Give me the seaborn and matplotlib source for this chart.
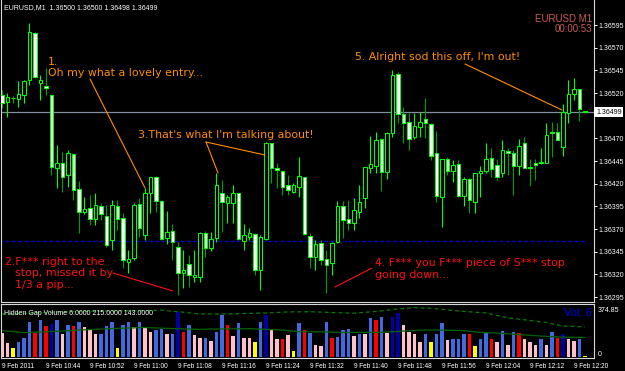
import numpy as np
import pandas as pd
import matplotlib
matplotlib.use("Agg")
import matplotlib.pyplot as plt
from matplotlib.lines import Line2D
import seaborn as sns

# ---------------- data ----------------
header_text = "EURUSD,M1  1.36500 1.36500 1.36498 1.36499"
indicator_text = "Hidden Gap Volume 6.0000 215.0000 143.0000"
time_labels = ["9 Feb 2011", "9 Feb 10:44", "9 Feb 10:52", "9 Feb 11:00", "9 Feb 11:08",
               "9 Feb 11:16", "9 Feb 11:24", "9 Feb 11:32", "9 Feb 11:40", "9 Feb 11:48",
               "9 Feb 11:56", "9 Feb 12:04", "9 Feb 12:12", "9 Feb 12:20"]
time_label_bars = [0, 8, 16, 24, 32, 40, 48, 56, 64, 72, 80, 88, 96, 104]

open_ = [1.36518, 1.36510, 1.36515, 1.36513, 1.36518, 1.36534, 1.36586, 1.36531, 1.36528, 1.36518,
         1.36437, 1.36443, 1.36430, 1.36453, 1.36414, 1.36389, 1.36393, 1.36381, 1.36395, 1.36384,
         1.36358, 1.36395, 1.36382, 1.36334, 1.36338, 1.36398, 1.36363, 1.36410, 1.36427, 1.36401,
         1.36360, 1.36368, 1.36350, 1.36322, 1.36331, 1.36317, 1.36317, 1.36366, 1.36349, 1.36360,
         1.36410, 1.36399, 1.36399, 1.36410, 1.36357, 1.36361, 1.36365, 1.36325, 1.36359, 1.36465,
         1.36437, 1.36434, 1.36419, 1.36411, 1.36416, 1.36427, 1.36362, 1.36339, 1.36355, 1.36337,
         1.36333, 1.36356, 1.36395, 1.36381, 1.36377, 1.36389, 1.36404, 1.36437, 1.36440, 1.36469,
         1.36433, 1.36476, 1.36541, 1.36497, 1.36488, 1.36471, 1.36482, 1.36491, 1.36486, 1.36454,
         1.36405, 1.36447, 1.36434, 1.36442, 1.36406, 1.36425, 1.36400, 1.36432, 1.36434, 1.36448,
         1.36441, 1.36432, 1.36456, 1.36454, 1.36440, 1.36465, 1.36438, 1.36443, 1.36443, 1.36443,
         1.36477, 1.36477, 1.36460, 1.36498, 1.36519, 1.36524, 1.36500]
high = [1.36523, 1.36520, 1.36517, 1.36533, 1.36534, 1.36597, 1.36587, 1.36540, 1.36548, 1.36518,
        1.36463, 1.36455, 1.36457, 1.36454, 1.36423, 1.36405, 1.36408, 1.36410, 1.36399, 1.36397,
        1.36402, 1.36402, 1.36388, 1.36347, 1.36399, 1.36404, 1.36415, 1.36427, 1.36429, 1.36402,
        1.36390, 1.36376, 1.36356, 1.36347, 1.36341, 1.36347, 1.36367, 1.36368, 1.36367, 1.36432,
        1.36424, 1.36408, 1.36419, 1.36410, 1.36376, 1.36371, 1.36366, 1.36363, 1.36466, 1.36465,
        1.36443, 1.36435, 1.36430, 1.36421, 1.36449, 1.36427, 1.36366, 1.36358, 1.36358, 1.36347,
        1.36356, 1.36401, 1.36401, 1.36402, 1.36404, 1.36418, 1.36438, 1.36473, 1.36477, 1.36470,
        1.36477, 1.36545, 1.36543, 1.36505, 1.36498, 1.36498, 1.36499, 1.36515, 1.36487, 1.36478,
        1.36447, 1.36449, 1.36446, 1.36446, 1.36427, 1.36426, 1.36432, 1.36440, 1.36465, 1.36459,
        1.36447, 1.36468, 1.36459, 1.36457, 1.36469, 1.36471, 1.36447, 1.36447, 1.36459, 1.36487,
        1.36488, 1.36487, 1.36508, 1.36534, 1.36537, 1.36524, 1.36500]
low = [1.36504, 1.36494, 1.36509, 1.36505, 1.36509, 1.36529, 1.36537, 1.36512, 1.36518, 1.36430,
       1.36415, 1.36411, 1.36416, 1.36402, 1.36366, 1.36386, 1.36374, 1.36374, 1.36380, 1.36350,
       1.36347, 1.36369, 1.36327, 1.36322, 1.36336, 1.36361, 1.36358, 1.36388, 1.36389, 1.36358,
       1.36354, 1.36336, 1.36297, 1.36305, 1.36306, 1.36311, 1.36311, 1.36339, 1.36346, 1.36356,
       1.36367, 1.36377, 1.36377, 1.36358, 1.36347, 1.36358, 1.36319, 1.36303, 1.36358, 1.36421,
       1.36415, 1.36408, 1.36408, 1.36410, 1.36405, 1.36363, 1.36327, 1.36325, 1.36330, 1.36299,
       1.36319, 1.36355, 1.36360, 1.36369, 1.36369, 1.36382, 1.36393, 1.36432, 1.36432, 1.36412,
       1.36425, 1.36471, 1.36487, 1.36465, 1.36457, 1.36469, 1.36471, 1.36470, 1.36446, 1.36400,
       1.36372, 1.36430, 1.36422, 1.36405, 1.36395, 1.36388, 1.36388, 1.36405, 1.36432, 1.36427,
       1.36424, 1.36427, 1.36430, 1.36408, 1.36430, 1.36437, 1.36417, 1.36424, 1.36442, 1.36443,
       1.36449, 1.36468, 1.36450, 1.36487, 1.36512, 1.36489, 1.36498]
close = [1.36509, 1.36516, 1.36514, 1.36519, 1.36533, 1.36587, 1.36538, 1.36534, 1.36526, 1.36438,
         1.36443, 1.36427, 1.36454, 1.36413, 1.36389, 1.36392, 1.36381, 1.36397, 1.36386, 1.36352,
         1.36397, 1.36381, 1.36336, 1.36337, 1.36397, 1.36371, 1.36410, 1.36427, 1.36401, 1.36359,
         1.36367, 1.36356, 1.36322, 1.36325, 1.36319, 1.36319, 1.36366, 1.36349, 1.36359, 1.36419,
         1.36400, 1.36405, 1.36410, 1.36359, 1.36363, 1.36366, 1.36325, 1.36361, 1.36465, 1.36437,
         1.36435, 1.36416, 1.36413, 1.36418, 1.36429, 1.36365, 1.36339, 1.36354, 1.36336, 1.36330,
         1.36355, 1.36395, 1.36380, 1.36377, 1.36391, 1.36400, 1.36438, 1.36442, 1.36468, 1.36433,
         1.36476, 1.36540, 1.36497, 1.36487, 1.36469, 1.36484, 1.36488, 1.36487, 1.36450, 1.36406,
         1.36447, 1.36434, 1.36441, 1.36406, 1.36425, 1.36402, 1.36432, 1.36434, 1.36447, 1.36436,
         1.36427, 1.36457, 1.36454, 1.36440, 1.36462, 1.36437, 1.36437, 1.36441, 1.36444, 1.36474,
         1.36476, 1.36468, 1.36499, 1.36519, 1.36524, 1.36502, 1.36499]

volume = [169, 98, 59, 105, 129, 246, 164, 258, 218, 230,
          258, 159, 223, 218, 241, 206, 187, 159, 159, 216,
          246, 59, 223, 246, 206, 246, 199, 176, 187, 192,
          159, 159, 316, 171, 223, 152, 134, 129, 112, 176,
          293, 223, 145, 234, 129, 129, 105, 246, 293, 187,
          124, 124, 152, 40, 234, 187, 169, 82, 75, 246,
          134, 141, 187, 194, 145, 157, 159, 269, 258, 276,
          164, 276, 309, 223, 176, 159, 105, 157, 105, 157,
          234, 117, 122, 122, 157, 157, 75, 124, 176, 124,
          101, 183, 82, 171, 164, 124, 105, 82, 124, 82,
          171, 134, 157, 122, 112, 124, 6]
volume_class = ("PPYBBBRBRN" "BPBRBPPPBB" "BYBBPBPPBB" "PBNRBPPBPB" "BRPBPPYBNP"
                "PRPYBRBPPB" "RBBBPBPBRB" "PNNPPPPBYB" "BPBBBRYBBR" "PBPBRPPPBP" "BRNPPBY")
class_colors = {"B": "#4169E1", "P": "#FFC0CB", "R": "#FF0000", "N": "#0000A0", "Y": "#FFFF00"}

ma_bar = [0, 4, 9, 14, 21, 26, 30, 36, 40, 45, 51, 54, 58, 62, 65, 69, 73, 76, 80, 84, 87, 91, 94, 98, 102, 106]
ma_value = [183, 169, 176, 187, 199, 205, 199, 192, 195, 197, 187, 175, 175, 170, 171, 171, 180, 187, 187, 183,
            171, 164, 155, 145, 137, 135]
band_bar = [0, 5, 10, 15, 20, 25, 29, 32, 36, 40, 44, 48, 52, 56, 60, 64, 68, 72, 75, 78, 81, 84, 88, 92, 96, 99, 102, 106]
band_value = [300, 305, 314, 318, 321, 323, 326, 316, 300, 300, 303, 307, 314, 316, 310, 305, 318, 335, 345, 340,
              328, 318, 307, 272, 255, 240, 215, 210]

price_ticks = [1.36595, 1.36570, 1.36545, 1.36520, 1.36495, 1.36470, 1.36445, 1.36420,
               1.36395, 1.36370, 1.36345, 1.36320, 1.36295]
current_price = 1.36499
stop_level = 1.36357
vol_max_label = "374.85"

# ---------------- layout helpers ----------------
W, H, DPI = 625, 371, 100
def fx(px):
    return px / W
def fy(py):
    return 1 - py / H

sns.set_style("dark")
plt.rcParams["font.family"] = ["Liberation Sans", "DejaVu Sans"]
plt.rcParams["axes.facecolor"] = "black"
plt.rcParams["figure.facecolor"] = "black"

fig = plt.figure(figsize=(W / DPI, H / DPI), dpi=DPI, facecolor="black")
ax = fig.add_axes([fx(1), fy(302), fx(594) - fx(1), fy(0) - fy(302)])
axv = fig.add_axes([fx(1), fy(358), fx(594) - fx(1), fy(304) - fy(358)])
for a in (ax, axv):
    a.set_facecolor("black")
    a.grid(False)
    for s in a.spines.values():
        s.set_color("#D8D8D8")
        s.set_linewidth(0.8)
ax.spines["top"].set_visible(False)

# ---------------- candles ----------------
o = np.array(open_); h = np.array(high); l = np.array(low); c = np.array(close)
idx = np.arange(len(o))
bull = c >= o
ax.axhline(current_price, color="#8090A0", lw=0.9, zorder=1)
ax.hlines(stop_level, -1, 106, colors="#0000E0", lw=0.9, linestyles=(0, (3, 2)), zorder=1)
ax.vlines(idx[bull], l[bull], h[bull], colors="#00FF00", lw=0.8, zorder=2)
ax.vlines(idx[~bull], l[~bull], h[~bull], colors="#00A000", lw=0.8, zorder=2)
ax.bar(idx, np.abs(c - o), bottom=np.minimum(o, c), width=0.6,
       color=np.where(bull, "black", "white"), edgecolor="#00FF00", linewidth=0.75, zorder=3)

ax.set_xlim(-1 / 5.5, 592 / 5.5)
ax.set_ylim(1.36289486, 1.36622574)
ax.set_xticks([])
ax.yaxis.tick_right()
ax.set_yticks(price_ticks)
ax.set_yticklabels(["" if abs(p - current_price) < 0.0001 else f"{p:.5f}" for p in price_ticks])
ax.tick_params(axis="y", colors="white", length=2.3, width=0.7, labelsize=5, pad=1)
ax.text(1.0035, current_price, f"{current_price:.5f}", transform=ax.get_yaxis_transform(),
        ha="left", va="center", fontsize=5, color="black", zorder=10, clip_on=False,
        bbox=dict(boxstyle="square,pad=0.25", fc="white", ec="none"))

# ---------------- volume panel ----------------
df = pd.DataFrame({"bar": np.arange(len(volume)), "volume": volume, "cls": list(volume_class)})
sns.barplot(data=df, x="bar", y="volume", hue="cls", palette=class_colors, dodge=False,
            native_scale=True, width=0.58, saturation=1, errorbar=None, legend=False,
            linewidth=0, ax=axv)
sns.lineplot(x=ma_bar, y=ma_value, ax=axv, color="#006400", linewidth=0.9)
sns.lineplot(x=band_bar, y=band_value, ax=axv, color="#008000", linewidth=0.9)
axv.lines[-1].set_linestyle((0, (3, 2.5)))
axv.set_xlim(-1 / 5.5, 592 / 5.5)
axv.set_ylim(-9.1, 370)
axv.set_xlabel("")
axv.set_ylabel("")
axv.set_yticks([])
axv.set_xticks(time_label_bars)
axv.set_xticklabels(time_labels)
for t in axv.get_xticklabels():
    t.set_ha("left")
axv.tick_params(axis="x", colors="white", length=2.5, width=0.7, labelsize=4.7, pad=1.2)

# ---------------- texts ----------------
fig.text(fx(4), fy(9), header_text, color="white", fontsize=5, va="baseline")
fig.text(fx(4), fy(315), indicator_text, color="white", fontsize=5, va="baseline")
fig.text(fx(592), fy(21.5), "EURUSD M1", color="#CD5C5C", fontsize=7, ha="right", va="baseline")
fig.text(fx(592), fy(32.5), "00:00:53", color="#CD5C5C", fontsize=7, ha="right", va="baseline")
fig.text(fx(592), fy(315.5), "Vol: 6", color="#0000E0", fontsize=8, ha="right", va="baseline", zorder=30)
fig.text(fx(597.5), fy(312.5), vol_max_label, color="white", fontsize=5, va="baseline")
fig.text(fx(597.5), fy(356), "0", color="white", fontsize=5, va="baseline")

orange = "#FF8C00"
red = "#FF1010"
ann = dict(fontsize=7.9, va="baseline", family=["DejaVu Sans"])
fig.text(fx(48), fy(65), "1.", color=orange, **ann)
fig.text(fx(48), fy(75.5), "Oh my what a lovely entry...", color=orange, **ann)
fig.text(fx(5), fy(265), "2.F*** right to the", color=red, **ann)
fig.text(fx(15), fy(276.5), "stop, missed it by", color=red, **ann)
fig.text(fx(15), fy(288.5), "1/3 a pip...", color=red, **ann)
fig.text(fx(138), fy(138.5), "3.That's what I'm talking about!", color=orange, **ann)
fig.text(fx(375), fy(265.5), "4. F*** you F*** piece of S*** stop", color=red, **ann)
fig.text(fx(375), fy(278), "going down...", color=red, **ann)
fig.text(fx(355), fy(59.5), "5. Alright sod this off, I'm out!", color=orange, **ann)

def link(x1, y1, x2, y2, col):
    fig.add_artist(Line2D([fx(x1), fx(x2)], [fy(y1), fy(y2)], transform=fig.transFigure,
                          color=col, lw=0.8, zorder=20))

link(90, 79, 145, 188, orange)
link(113, 273, 173, 291, red)
link(206, 142, 218, 173, orange)
link(206, 142, 265, 155, orange)
link(372, 268, 335, 287, red)
link(465, 64, 562, 110, orange)

fig.savefig("out.png", dpi=DPI, facecolor="black")
